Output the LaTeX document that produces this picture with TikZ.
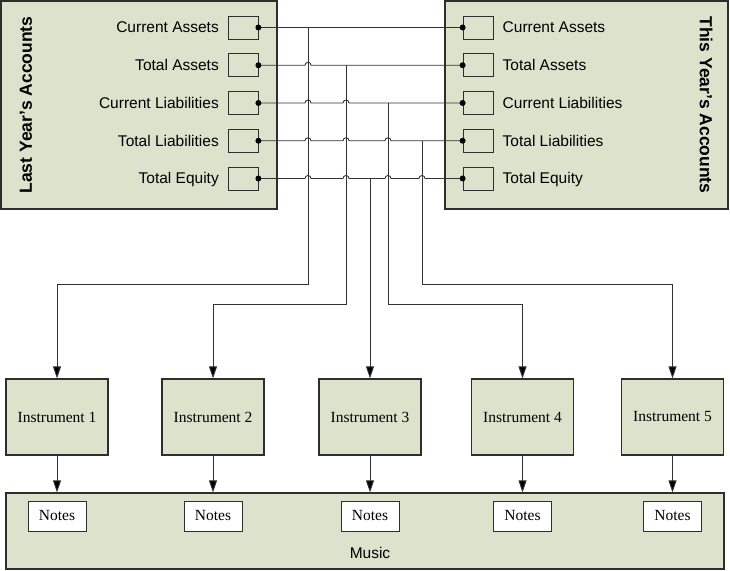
\documentclass[tikz,border=0pt]{standalone}
\usepackage{fontspec}
\setmainfont{Liberation Serif}
\setsansfont{Liberation Sans}
\usetikzlibrary{arrows.meta}
\definecolor{accFill}{HTML}{DDE2CD}
\definecolor{accEdge}{HTML}{2E2E2E}
\definecolor{accWire}{HTML}{333333}
\tikzset{
  acc panel/.style={draw=accEdge, fill=accFill, line width=1.5pt, inner sep=0pt},
  acc slot/.style={draw=accEdge, fill=accFill, line width=0.8pt, minimum width=30pt, minimum height=23pt, inner sep=0pt},
  acc item/.style={font=\sffamily\fontsize{15.5}{18}\selectfont, inner sep=0pt},
  acc title/.style={font=\sffamily\bfseries\fontsize{17.5}{20}\selectfont, inner sep=0pt},
  acc instr/.style={draw=accEdge, fill=accFill, line width=1.2pt, minimum width=102pt, minimum height=76pt, inner sep=0pt, font=\fontsize{15.5}{18}\selectfont},
  acc notes/.style={draw=accEdge, fill=white, line width=0.9pt, minimum width=58pt, minimum height=30pt, inner sep=0pt, font=\fontsize{15.5}{18}\selectfont},
  acc wire/.style={draw=accWire, line width=0.9pt},
  acc feed/.style={acc wire, -{Triangle[length=12pt, width=8pt, fill=black]}},
}

\begin{document}
\begin{tikzpicture}[x=1pt, y=1pt]
  \useasboundingbox (0,0) rectangle (730,570);

  % Account panels
  \node[acc panel, minimum width=276pt, minimum height=208pt] (lastPanel) at (139,465) {};
  \node[acc panel, minimum width=283pt, minimum height=208pt] (thisPanel) at (586.5,465) {};
  \node[acc title, rotate=90] (lastTitle) at (26,465) {Last Year’s Accounts};
  \node[acc title, rotate=-90] (thisTitle) at (706,465) {This Year’s Accounts};

  \foreach \name/\label [count=\i] in {CA/Current Assets, TA/Total Assets, CL/Current Liabilities, TL/Total Liabilities, TE/Total Equity} {
    \pgfmathsetmacro\rowy{580.25-37.75*\i}
    \node[acc slot] (l\name) at (243,\rowy) {};
    \node[acc slot] (r\name) at (478,\rowy) {};
    \node[acc item, anchor=base east] (lt\name) at (219,\rowy-5.5) {\label};
    \node[acc item, anchor=base west] (rt\name) at (502.5,\rowy-5.5) {\label};
  }

  % Rows, hopping over the branches
  \draw[acc wire] (lCA.east) -- (rCA.west);
  \draw[acc wire] (lTA.east) -- (305,0 |- lTA) arc[start angle=180, end angle=0, radius=3]
    -- (rTA.west);
  \draw[acc wire] (lCL.east) -- (305,0 |- lCL) arc[start angle=180, end angle=0, radius=3]
    -- (343,0 |- lCL) arc[start angle=180, end angle=0, radius=3] -- (rCL.west);
  \draw[acc wire] (lTL.east) -- (305,0 |- lTL) arc[start angle=180, end angle=0, radius=3]
    -- (343,0 |- lTL) arc[start angle=180, end angle=0, radius=3]
    -- (385,0 |- lTL) arc[start angle=180, end angle=0, radius=3] -- (rTL.west);
  \draw[acc wire] (lTE.east) -- (305,0 |- lTE) arc[start angle=180, end angle=0, radius=3]
    -- (343,0 |- lTE) arc[start angle=180, end angle=0, radius=3]
    -- (385,0 |- lTE) arc[start angle=180, end angle=0, radius=3]
    -- (419,0 |- lTE) arc[start angle=180, end angle=0, radius=3] -- (rTE.west);
  \foreach \name in {CA,TA,CL,TL,TE} {
    \fill (l\name.east) circle (3);
    \fill (r\name.west) circle (3);
  }

  % Music with one part per instrument
  \node[acc instr, minimum width=718pt, minimum height=76pt] (music) at (365,39) {};
  \node[acc item] (musicLabel) at (370,17.3) {Music};
  \foreach \x [count=\k] in {57,213,370,522.5,672.5} {
    \node[acc instr] (ins\k) at (\x,153) {Instrument \k};
    \node[acc notes] (notes\k) at (\x,54) {Notes};
    \draw[acc feed] (ins\k) -- (ins\k.south |- music.north);
  }

  % Branches down to the instruments
  \coordinate (jCA) at (308,0 |- lCA);
  \coordinate (jTA) at (346,0 |- lTA);
  \coordinate (jCL) at (388,0 |- lCL);
  \coordinate (jTL) at (422,0 |- lTL);
  \coordinate (jTE) at (370,0 |- lTE);
  \draw[acc feed] (jCA) |- (ins1.north |- 0,286) -- (ins1.north);
  \draw[acc feed] (jTA) |- (ins2.north |- 0,266) -- (ins2.north);
  \draw[acc feed] (jTE) -- (ins3.north);
  \draw[acc feed] (jCL) |- (ins4.north |- 0,266) -- (ins4.north);
  \draw[acc feed] (jTL) |- (ins5.north |- 0,286) -- (ins5.north);
\end{tikzpicture}
\end{document}
